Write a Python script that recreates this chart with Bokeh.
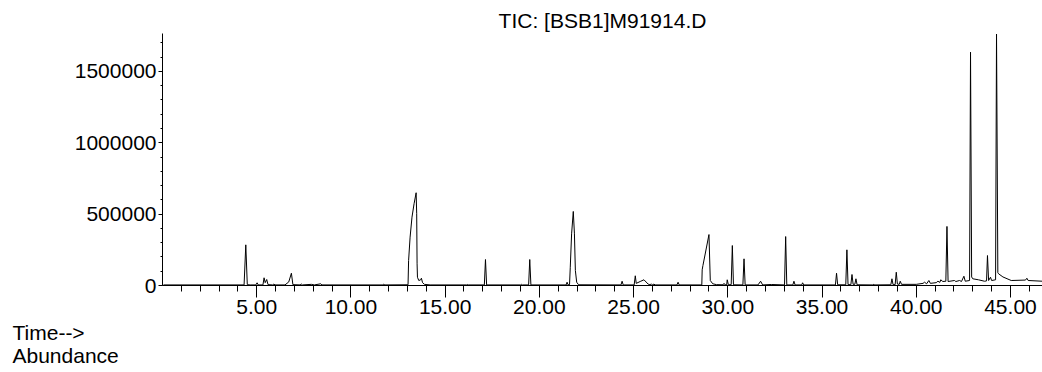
from bokeh.plotting import figure
from bokeh.models import Range1d, FixedTicker, NumeralTickFormatter, Title
from bokeh.embed import file_html
from bokeh.resources import INLINE

# ---- data: chromatogram trace (retention time in min, abundance) ----
time = [
    0.05, 4.33, 4.42, 4.50, 4.65, 4.95, 5.02, 5.08, 5.33, 5.39, 5.45, 5.53, 5.60,
    5.85, 5.91, 5.97, 6.50, 6.70, 6.84, 6.92, 7.30, 7.37, 7.43, 7.90, 8.06, 8.40,
    8.46, 11.70, 11.74, 11.80, 13.03, 13.06, 13.14, 13.24, 13.35, 13.46, 13.49,
    13.51, 13.53, 13.60, 13.70, 13.74, 13.80, 13.90, 14.20, 16.15, 16.18, 16.22,
    17.08, 17.14, 17.20, 19.00, 19.05, 19.10, 19.43, 19.49, 19.55, 21.42, 21.47,
    21.52, 21.60, 21.64, 21.71, 21.80, 21.86, 21.91, 21.98, 22.08, 24.33, 24.39,
    24.45, 25.03, 25.09, 25.14, 25.35, 25.55, 25.77, 25.88, 25.94, 26.00, 26.08,
    26.14, 27.30, 27.36, 27.42, 28.62, 28.64, 28.68, 29.00, 29.07, 29.20, 29.40,
    29.75, 29.80, 29.85, 29.94, 29.97, 30.03, 30.18, 30.24, 30.30, 30.80, 30.86,
    30.92, 31.60, 31.74, 31.85, 32.31, 33.01, 33.07, 33.13, 33.45, 33.51, 33.57,
    33.92, 33.97, 34.03, 35.71, 35.77, 35.83, 36.26, 36.32, 36.38, 36.53, 36.59,
    36.65, 36.74, 36.80, 36.86, 37.70, 37.75, 37.80, 38.65, 38.71, 38.77, 38.88,
    38.94, 39.00, 39.10, 39.15, 39.22, 40.00, 40.36, 40.44, 40.55, 40.67, 40.75,
    41.06, 41.15, 41.25, 41.30, 41.41, 41.57, 41.63, 41.69, 42.03, 42.10, 42.30,
    42.40, 42.53, 42.60, 42.83, 42.88, 42.94, 43.00, 43.30, 43.62, 43.73, 43.78,
    43.84, 43.94, 44.00, 44.21, 44.26, 44.33, 44.37, 44.60, 45.04, 45.80, 45.87,
    45.94, 46.70,
]
abundance = [
    4000, 4000, 285000, 6000, 4000, 4000, 19000, 4000, 4000, 54000, 20000, 42000, 6000,
    4000, 10000, 4000, 4000, 25000, 86000, 6000, 4000, 10000, 4000, 8000, 4000, 12000,
    4000, 4000, 9000, 4000, 5000, 175000, 339000, 479000, 573000, 650000, 503000,
    152000, 58000, 35000, 40000, 51000, 20000, 8000, 4000, 4000, 7000, 4000,
    4000, 182000, 4000, 4000, 8000, 4000, 4000, 182000, 4000, 4000, 23000,
    5000, 5000, 128000, 362000, 519000, 362000, 105000, 23000, 5000, 4000, 30000,
    4000, 4000, 68000, 15000, 28000, 40000, 10000, 4000, 12000, 4000, 10000,
    4000, 4000, 23000, 4000, 4000, 110000, 140000, 357000, 35000, 12000, 6000,
    5000, 15000, 5000, 4000, 40000, 5000, 6000, 280000, 5000, 4000, 187000,
    4000, 4000, 30000, 4000, 7000, 4000, 343000, 4000, 4000, 30000, 4000,
    4000, 19000, 4000, 4000, 86000, 5000, 5000, 250000, 6000, 6000, 77000,
    8000, 8000, 47000, 5000, 4000, 8000, 4000, 5000, 47000, 6000, 6000,
    93000, 10000, 8000, 30000, 8000, 8000, 15000, 23000, 12000, 35000, 15000,
    20000, 30000, 22000, 40000, 28000, 30000, 414000, 28000, 35000, 28000, 35000,
    28000, 65000, 30000, 35000, 1635000, 60000, 47000, 40000, 30000, 32000, 210000,
    35000, 58000, 35000, 40000, 1762000, 90000, 82000, 60000, 35000, 38000, 51000,
    35000, 30000,
]

x_major = [5, 10, 15, 20, 25, 30, 35, 40, 45]
x_minor = list(range(1, 47))
y_major = [0, 500000, 1000000, 1500000]
y_minor = list(range(0, 1700001, 100000))

title_text = "TIC: [BSB1]M91914.D"
x_label_text = "Time-->"
y_label_text = "Abundance"

FONT = "Liberation Sans"

p = figure(width=1042, height=366, output_backend="svg", toolbar_location=None,
           x_range=Range1d(0, 46.7), y_range=Range1d(0, 1766000),
           min_border_left=162, min_border_right=0, min_border_top=33, min_border_bottom=81)
p.outline_line_color = None
p.xgrid.visible = False
p.ygrid.visible = False
p.background_fill_color = "white"

p.line(time, abundance, line_color="black", line_width=1)

xa = p.xaxis[0]
xa.ticker = FixedTicker(ticks=x_major, minor_ticks=x_minor)
xa.formatter = NumeralTickFormatter(format="0.00")
xa.major_tick_out = 12
xa.major_tick_in = 0
xa.minor_tick_out = 6
xa.minor_tick_in = 0
xa.major_label_standoff = 2
xa.major_label_text_font = FONT
xa.major_label_text_font_size = "21px"
xa.major_label_text_color = "black"
xa.axis_line_color = "black"
xa.major_tick_line_color = "black"
xa.minor_tick_line_color = "black"

ya = p.yaxis[0]
ya.ticker = FixedTicker(ticks=y_major, minor_ticks=y_minor)
ya.formatter = NumeralTickFormatter(format="0")
ya.major_tick_out = 4
ya.major_tick_in = 0
ya.minor_tick_out = 2
ya.minor_tick_in = 0
ya.major_label_standoff = 2
ya.major_label_text_font = FONT
ya.major_label_text_font_size = "21px"
ya.major_label_text_color = "black"
ya.axis_line_color = "black"
ya.major_tick_line_color = "black"
ya.minor_tick_line_color = "black"

p.title.text = title_text
p.title.align = "center"
p.title.text_font = FONT
p.title.text_font_size = "21px"
p.title.text_font_style = "normal"
p.title.text_color = "black"
p.title.standoff = 4

t1 = Title(text=x_label_text, align="left", offset=-150, text_font=FONT,
           text_font_size="21px", text_font_style="normal", text_color="black", standoff=5)
t2 = Title(text=y_label_text, align="left", offset=-150, text_font=FONT,
           text_font_size="21px", text_font_style="normal", text_color="black", standoff=-9)
p.add_layout(t1, "below")
p.add_layout(t2, "below")

open("out.html", "w").write(file_html(p, INLINE))
